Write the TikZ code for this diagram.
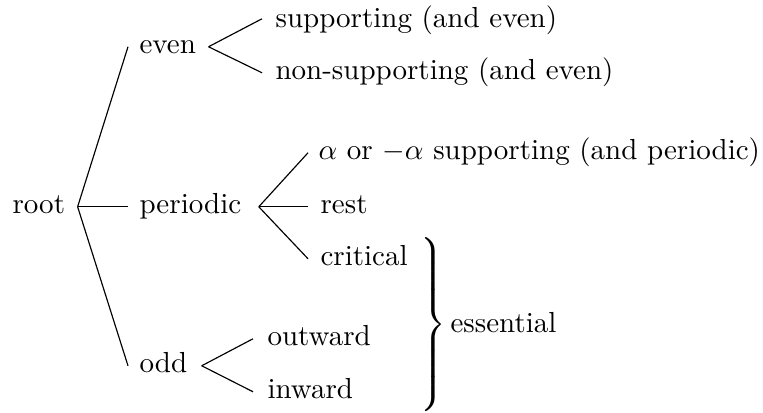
\documentclass[tikz,border=0pt]{standalone}
\usetikzlibrary{calc}
\begin{document}
\begin{tikzpicture}[x=0.3448pt,y=-0.3448pt,
  lbl/.style={inner sep=0pt,anchor=base west,text height=7pt,text depth=2.7pt},
  conn/.style={line width=0.4pt}]
\useasboundingbox (0,0) rectangle (763,412);
\node[lbl] (root) at (12,213) {root};
\node[lbl] (even) at (139,53) {even};
\node[lbl] (periodic) at (139,213) {periodic};
\node[lbl] (odd) at (139,372) {odd};
\node[lbl] (sup) at (275,27) {supporting (and even)};
\node[lbl] (nonsup) at (275,79) {non-supporting (and even)};
\node[lbl] (alpha) at (318,159) {$\alpha$ or $-\alpha$ supporting (and periodic)};
\node[lbl] (rest) at (320,213) {rest};
\node[lbl] (crit) at (320,265) {critical};
\node[lbl] (outw) at (267,345) {outward};
\node[lbl] (inw) at (267,398) {inward};
\node[inner sep=0pt] (brace) at (432,324.5)
  {$\delimitershortfall=0pt\delimiterfactor=1000\left.\vcenter{\hrule height 60pt width 0pt}\right\}$};
\node[lbl] (ess) at (450,332) {essential};
\draw[conn] ($(root.east)+(12,0)$) -- ($(even.west)+(-11,0)$);
\draw[conn] ($(root.east)+(12,0)$) -- ($(periodic.west)+(-11,0)$);
\draw[conn] ($(root.east)+(12,0)$) -- ($(odd.west)+(-11,0)$);
\draw[conn] ($(even.east)+(12,0)$) -- ($(sup.west)+(-13,-2)$);
\draw[conn] ($(even.east)+(12,0)$) -- ($(nonsup.west)+(-13,0)$);
\draw[conn] ($(periodic.east)+(17,0)$) -- ($(alpha.west)+(-10,0)$);
\draw[conn] ($(periodic.east)+(17,0)$) -- ($(rest.west)+(-12,0)$);
\draw[conn] ($(periodic.east)+(17,0)$) -- ($(crit.west)+(-12,0)$);
\draw[conn] ($(odd.east)+(14,0)$) -- ($(outw.west)+(-14,0)$);
\draw[conn] ($(odd.east)+(14,0)$) -- ($(inw.west)+(-14,0)$);
\end{tikzpicture}
\end{document}
